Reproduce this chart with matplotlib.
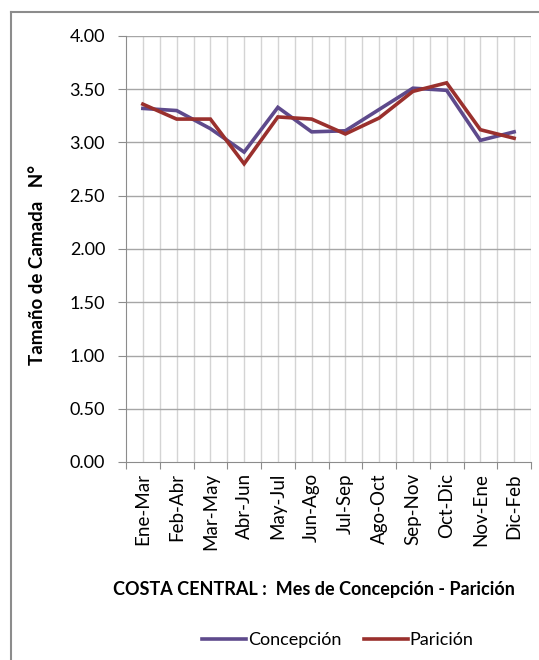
import matplotlib.pyplot as plt
from matplotlib.lines import Line2D

plt.rcParams['font.family'] = ['Lato', 'DejaVu Sans']

categories = ['Ene-Mar', 'Feb-Abr', 'Mar-May', 'Abr-Jun', 'May-Jul', 'Jun-Ago',
              'Jul-Sep', 'Ago-Oct', 'Sep-Nov', 'Oct-Dic', 'Nov-Ene', 'Dic-Feb']
concepcion = [3.32, 3.30, 3.13, 2.91, 3.33, 3.10, 3.11, 3.31, 3.51, 3.49, 3.02, 3.10]
paricion = [3.36, 3.22, 3.22, 2.80, 3.24, 3.22, 3.08, 3.23, 3.48, 3.56, 3.12, 3.04]
y_ticks = [0.0, 0.5, 1.0, 1.5, 2.0, 2.5, 3.0, 3.5, 4.0]

PURPLE = '#5E4A8C'
RED = '#9A302D'
W, H = 539, 660

fig = plt.figure(figsize=(W / 100, H / 100), dpi=100)
ax = fig.add_axes((126 / W, 1 - 462 / H, (531 - 126) / W, (462 - 36) / H))

x = list(range(len(categories)))
# vertical grid at centres and category boundaries
for i in range(len(categories)):
    ax.axvline(i, color='#d4d4d4', lw=1, zorder=0)
    ax.axvline(i + 0.5, color='#d4d4d4', lw=1, zorder=0)
for yv in y_ticks[1:]:
    ax.axhline(yv, color='#a6a6a6', lw=1, zorder=1)

ax.plot(x, concepcion, color=PURPLE, lw=2.6, zorder=3, solid_joinstyle='miter')
ax.plot(x, paricion, color=RED, lw=2.6, zorder=4, solid_joinstyle='miter')

ax.set_xlim(-0.5, len(categories) - 0.5)
ax.set_ylim(0, 4)
ax.set_yticks(y_ticks)
ax.set_yticklabels([f'{v:.2f}' for v in y_ticks], fontsize=13)
ax.set_xticks([i - 0.5 for i in range(len(categories) + 1)], minor=False)
ax.set_xticklabels([])
ax.set_xticks(x, minor=True)
ax.set_xticklabels(categories, minor=True, rotation=90, fontsize=13.5)
ax.tick_params(axis='x', which='minor', length=0, pad=8)
ax.tick_params(axis='x', which='major', length=5, color='#8c8c8c', direction='out')
ax.tick_params(axis='y', length=6, color='#8c8c8c', direction='out', pad=9)

for s in ['top', 'right']:
    ax.spines[s].set_visible(False)
for s in ['left', 'bottom']:
    ax.spines[s].set_color('#8c8c8c')

fig.text(38 / W, 1 - 265 / H, 'Tamaño de Camada   N°', rotation=90,
         fontsize=13.5, fontweight='bold', ha='center', va='center')
fig.text(314 / W, 1 - 590 / H, 'COSTA CENTRAL :  Mes de Concepción - Parición',
         fontsize=13, fontweight='bold', ha='center', va='center')

handles = [Line2D([], [], color=PURPLE, lw=2.6), Line2D([], [], color=RED, lw=2.6)]
fig.legend(handles, ['Concepción', 'Parición'], loc='center',
           bbox_to_anchor=(338 / W, 1 - 640 / H), ncol=2, frameon=False,
           fontsize=13, handlelength=2.4, handletextpad=0.1, columnspacing=1.3)

# outer chart frame (left and top edges visible)
fig.add_artist(Line2D([11 / W, 11 / W], [0, 1 - 12 / H], color='#8c8c8c', lw=1.5,
                      transform=fig.transFigure))
fig.add_artist(Line2D([11 / W, 1], [1 - 12 / H, 1 - 12 / H], color='#8c8c8c', lw=1.5,
                      transform=fig.transFigure))

fig.savefig('out.png', dpi=100)
